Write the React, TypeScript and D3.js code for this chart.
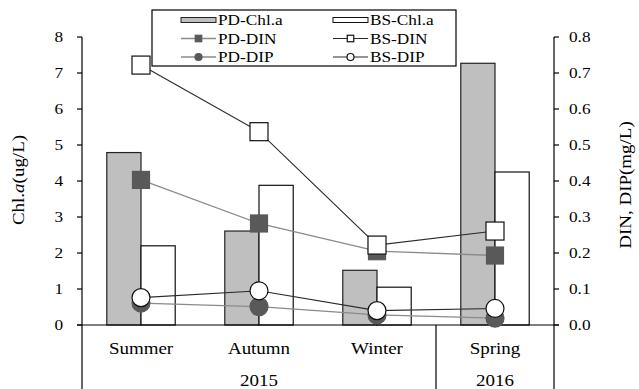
import React from "react";
import * as d3 from "d3";

// Seasons and years on the category axis
const seasons = ["Summer", "Autumn", "Winter", "Spring"];
const years = [
  { label: "2015", from: "Summer", to: "Winter" },
  { label: "2016", from: "Spring", to: "Spring" },
];

// Chlorophyll a (ug/L)
const pdChla = [4.79, 2.61, 1.52, 7.27];
const bsChla = [2.2, 3.88, 1.05, 4.25];

// Dissolved nutrients (mg/L)
const pdDin = [0.403, 0.282, 0.205, 0.193];
const bsDin = [0.722, 0.537, 0.222, 0.261];
const pdDip = [0.061, 0.051, 0.028, 0.019];
const bsDip = [0.076, 0.095, 0.04, 0.046];

const leftTicks = [0, 1, 2, 3, 4, 5, 6, 7, 8];
const rightTicks = [0, 0.1, 0.2, 0.3, 0.4, 0.5, 0.6, 0.7, 0.8];

const W = 639;
const H = 389;
const FONT = "Liberation Serif, Times New Roman, serif";
const SX = 1.15;

const PD_FILL = "#bfbfbf";
const PD_MARK = "#595959";
const PD_LINE = "#8a8a8a";
const BS_LINE = "#2a2a2a";

function T({
  x,
  y,
  size,
  anchor = "middle",
  rotate = 0,
  children,
}: {
  x: number;
  y: number;
  size: number;
  anchor?: "start" | "middle" | "end";
  rotate?: number;
  children: React.ReactNode;
}) {
  return (
    <text
      transform={`translate(${x},${y}) rotate(${rotate}) scale(${SX},1)`}
      style={{ fontFamily: FONT, fontSize: size }}
      textAnchor={anchor}
      fill="#000"
    >
      {children}
    </text>
  );
}

export default function App() {
  const left = 82;
  const right = 554;
  const y0 = 325;
  const yTop = 37;

  const x = d3.scaleBand<string>().domain(seasons).range([left, right]).padding(0);
  const bw = x.bandwidth() * 0.29;
  const cx = (s: string) => (x(s) as number) + x.bandwidth() / 2;

  const yL = d3.scaleLinear().domain([0, 8]).range([y0, yTop]);
  const yR = d3.scaleLinear().domain([0, 0.8]).range([y0, yTop]);

  const lineR = (vals: number[]) =>
    d3
      .line<number>()
      .x((_, i) => cx(seasons[i]))
      .y((d) => yR(d))(vals) as string;

  const sq = (px: number, py: number, s: number, fill: string, stroke: string, key?: string) => (
    <rect key={key} x={px - s / 2} y={py - s / 2} width={s} height={s} fill={fill} stroke={stroke} strokeWidth={1.2} />
  );
  const dot = (px: number, py: number, r: number, fill: string, stroke: string, key?: string) => (
    <circle key={key} cx={px} cy={py} r={r} fill={fill} stroke={stroke} strokeWidth={1.2} />
  );

  // Legend layout
  const lg = { x: 152, y: 10, w: 304, h: 56 };
  const col1 = 181;
  const col2 = 333;
  const swW = 35;
  const rows = [20, 38.5, 57];

  return (
    <svg
      width={W}
      height={H}
      style={{ position: "absolute", left: 0, top: 0, background: "#fff" }}
    >
      <rect x={0} y={0} width={W} height={H} fill="#fff" />

      {/* bars */}
      {seasons.map((s, i) => (
        <g key={s}>
          <rect
            x={cx(s) - bw}
            y={yL(pdChla[i])}
            width={bw}
            height={y0 - yL(pdChla[i])}
            fill={PD_FILL}
            stroke="#222"
            strokeWidth={1.2}
          />
          <rect
            x={cx(s)}
            y={yL(bsChla[i])}
            width={bw}
            height={y0 - yL(bsChla[i])}
            fill="#fff"
            stroke="#111"
            strokeWidth={1.2}
          />
        </g>
      ))}

      {/* axes */}
      <line x1={left} x2={left} y1={yTop} y2={H} stroke="#000" strokeWidth={1.2} />
      <line x1={right} x2={right} y1={yTop} y2={H} stroke="#000" strokeWidth={1.2} />
      <line x1={left - 5} x2={right + 5} y1={y0} y2={y0} stroke="#000" strokeWidth={1.2} />
      {leftTicks.map((t) => (
        <g key={`l${t}`}>
          <line x1={left - 5} x2={left} y1={yL(t)} y2={yL(t)} stroke="#000" strokeWidth={1.2} />
          <T x={63} y={yL(t) + 5} size={15} anchor="end">
            {t}
          </T>
        </g>
      ))}
      {rightTicks.map((t) => (
        <g key={`r${t}`}>
          <line x1={right} x2={right + 5} y1={yR(t)} y2={yR(t)} stroke="#000" strokeWidth={1.2} />
          <T x={569} y={yR(t) + 5} size={15} anchor="start">
            {d3.format(".1f")(t)}
          </T>
        </g>
      ))}

      {/* category labels and year groups */}
      {seasons.map((s) => (
        <T key={`c${s}`} x={cx(s)} y={354} size={16.5}>
          {s}
        </T>
      ))}
      {years.map((yr) => {
        const a = x(yr.from) as number;
        const b = (x(yr.to) as number) + x.bandwidth();
        return (
          <g key={yr.label}>
            {a > left && <line x1={a} x2={a} y1={y0} y2={H} stroke="#000" strokeWidth={1.2} />}
            <T x={(a + b) / 2} y={386} size={16.5}>
              {yr.label}
            </T>
          </g>
        );
      })}

      {/* nutrient lines */}
      <path d={lineR(pdDin)} fill="none" stroke={PD_LINE} strokeWidth={1.3} />
      {pdDin.map((v, i) => sq(cx(seasons[i]), yR(v), 17, PD_MARK, PD_MARK, `pdn${i}`))}
      <path d={lineR(pdDip)} fill="none" stroke={PD_LINE} strokeWidth={1.3} />
      {pdDip.map((v, i) => dot(cx(seasons[i]), yR(v), 9, PD_MARK, PD_MARK, `pdp${i}`))}
      <path d={lineR(bsDin)} fill="none" stroke={BS_LINE} strokeWidth={1.1} />
      {bsDin.map((v, i) => sq(cx(seasons[i]), yR(v), 18, "#fff", "#111", `bsn${i}`))}
      <path d={lineR(bsDip)} fill="none" stroke={BS_LINE} strokeWidth={1.1} />
      {bsDip.map((v, i) => dot(cx(seasons[i]), yR(v), 9, "#fff", "#111", `bsp${i}`))}

      {/* axis titles */}
      <T x={24} y={180} size={16.5} rotate={-90}>
        Chl.<tspan fontStyle="italic">a</tspan>(ug/L)
      </T>
      <T x={631} y={185} size={16.5} rotate={-90}>
        DIN, DIP(mg/L)
      </T>

      {/* legend */}
      <rect x={lg.x} y={lg.y} width={lg.w} height={lg.h} fill="#fff" stroke="#000" strokeWidth={1.2} />
      <rect x={col1} y={rows[0] - 2.5} width={swW} height={5} fill={PD_FILL} stroke="#222" strokeWidth={1} />
      <T x={col1 + swW + 2} y={rows[0] + 5} size={15} anchor="start">PD-Chl.a</T>
      <rect x={col2} y={rows[0] - 2.5} width={swW} height={5} fill="#fff" stroke="#111" strokeWidth={1} />
      <T x={col2 + swW + 2} y={rows[0] + 5} size={15} anchor="start">BS-Chl.a</T>

      <line x1={col1} x2={col1 + swW} y1={rows[1]} y2={rows[1]} stroke={PD_LINE} strokeWidth={1.3} />
      {sq(col1 + swW / 2, rows[1], 6.5, PD_MARK, PD_MARK)}
      <T x={col1 + swW + 2} y={rows[1] + 5} size={15} anchor="start">PD-DIN</T>
      <line x1={col2} x2={col2 + swW} y1={rows[1]} y2={rows[1]} stroke={BS_LINE} strokeWidth={1.1} />
      {sq(col2 + swW / 2, rows[1], 6.5, "#fff", "#111")}
      <T x={col2 + swW + 2} y={rows[1] + 5} size={15} anchor="start">BS-DIN</T>

      <line x1={col1} x2={col1 + swW} y1={rows[2]} y2={rows[2]} stroke={PD_LINE} strokeWidth={1.3} />
      {dot(col1 + swW / 2, rows[2], 3.5, PD_MARK, PD_MARK)}
      <T x={col1 + swW + 2} y={rows[2] + 5} size={15} anchor="start">PD-DIP</T>
      <line x1={col2} x2={col2 + swW} y1={rows[2]} y2={rows[2]} stroke={BS_LINE} strokeWidth={1.1} />
      {dot(col2 + swW / 2, rows[2], 3.5, "#fff", "#111")}
      <T x={col2 + swW + 2} y={rows[2] + 5} size={15} anchor="start">BS-DIP</T>
    </svg>
  );
}
